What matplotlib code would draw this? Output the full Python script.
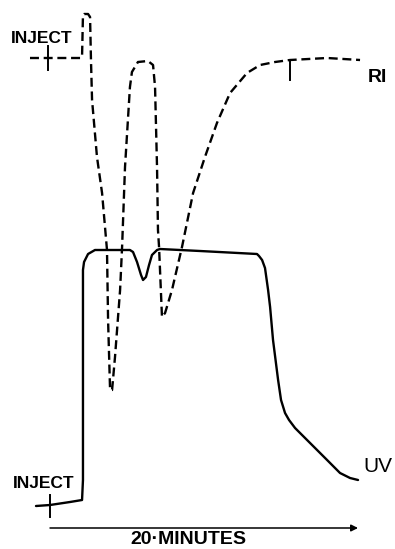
import matplotlib.pyplot as plt

# detector traces after injection, time in minutes, response in chart units
ri_time = [-1.30, 2.01, 2.08, 2.14, 2.21, 2.47, 2.60, 2.66, 2.73, 3.05, 3.38, 3.70,
           3.77, 3.90, 4.03, 4.22, 4.55, 4.68, 4.87, 5.19, 5.32, 5.71, 6.36, 6.69,
           6.82, 6.95, 7.01, 7.08, 7.27, 7.47, 7.92, 8.57, 9.29, 10.06, 10.84,
           11.69, 12.79, 13.64, 14.61, 15.58, 17.99, 20.13]
ri_resp = [94.0, 94.0, 94.2, 102.6, 102.8, 102.8, 102.2, 93.6, 85.6, 74.2, 67.0, 55.6,
           41.6, 27.6, 27.6, 34.2, 47.6, 56.2, 72.2, 88.2, 91.2, 93.2, 93.4, 92.6,
           88.2, 72.0, 59.6, 56.2, 42.2, 43.0, 47.6, 56.2, 67.0, 74.2, 81.0,
           87.0, 91.0, 92.6, 93.2, 93.6, 94.0, 93.6]

uv_time = [-0.91, 0.0, 1.30, 2.08, 2.14, 2.14, 2.21, 2.47, 2.92, 5.19, 5.39, 5.65,
           5.91, 6.04, 6.23, 6.43, 6.62, 6.95, 7.14, 9.74, 13.44, 13.57, 13.77,
           13.96, 14.16, 14.29, 14.48, 14.81, 15.00, 15.26, 15.52, 15.91, 16.69,
           17.99, 18.83, 19.48, 20.0]
uv_resp = [4.4, 4.6, 5.2, 5.6, 9.6, 51.6, 53.2, 54.8, 55.6, 55.6, 55.2, 53.2,
           50.6, 49.6, 50.2, 52.6, 54.6, 55.6, 55.8, 55.4, 54.8, 54.4, 53.6,
           52.0, 47.6, 44.2, 37.6, 29.6, 25.6, 23.0, 21.6, 20.0, 17.6,
           13.6, 11.0, 10.0, 9.6]

# injection marks and the small event tick on the RI plateau
ri_inject = (-0.13, 91.6, 96.4)
uv_inject = (0.0, 2.2, 6.6)
ri_event = (15.58, 89.6, 93.6)
run_length = 20

fig = plt.figure(figsize=(3.95, 5.49), dpi=100)
ax = fig.add_axes([0, 0, 1, 1])
ax.set_xlim(-3.247, 22.40)
ax.set_ylim(-4.2, 105.6)
ax.axis('off')

ax.plot(uv_time, uv_resp, color='black', lw=1.7, solid_capstyle='round',
        solid_joinstyle='round')
ax.plot(ri_time, ri_resp, color='black', lw=1.7, dashes=(3.8, 2.0))

for t, lo, hi in [ri_inject, uv_inject, ri_event]:
    ax.plot([t, t], [lo, hi], color='black', lw=1.4)

# time axis
ax.annotate('', xy=(run_length, 0), xytext=(0, 0),
            arrowprops=dict(arrowstyle='-|>', color='black', lw=1.1,
                            mutation_scale=10, shrinkA=0, shrinkB=0))

font = 'Liberation Sans'
ax.text(-0.52, 97.8, 'INJECT', ha='center', va='center', fontsize=12.5, family=font,
        fontweight='bold')
ax.text(-0.39, 8.9, 'INJECT', ha='center', va='center', fontsize=12.5, family=font,
        fontweight='bold')
ax.text(21.23, 90.1, 'RI', ha='center', va='center', fontsize=14, family=font,
        fontweight='bold')
ax.text(21.30, 12.2, 'UV', ha='center', va='center', fontsize=15, family=font)
ax.text(8.96, -2.4, '20·MINUTES', ha='center', va='center', fontsize=14, family=font,
        fontweight='bold')

fig.savefig('out.png', dpi=100)
